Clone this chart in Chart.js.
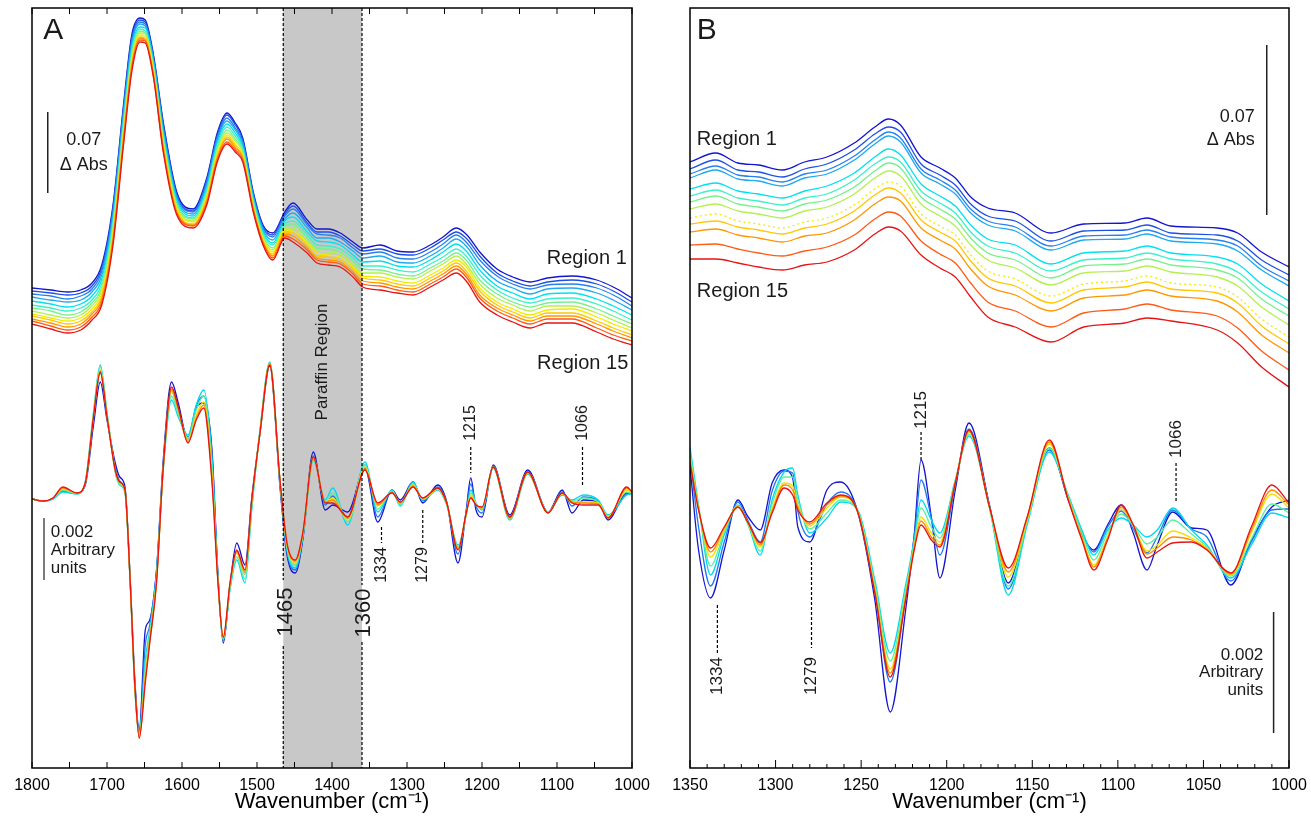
<!DOCTYPE html>
<html lang="en">

<head>
    <meta charset="UTF-8">
    <title>FTIR spectra - Region 1 to Region 15</title>
    <style>
        body { margin: 0; background: #fff; overflow: hidden; }
        #wrapA { position: absolute; left: 0; top: 0; width: 660px; height: 817px; }
        #wrapB { position: absolute; left: 660px; top: 0; width: 660px; height: 817px; }
    </style>
</head>

<body>
    <div id="wrapA"><canvas id="chartA"></canvas></div>
    <div id="wrapB"><canvas id="chartB"></canvas></div>

    <script src="https://cdn.jsdelivr.net/npm/chart.js"></script>

    <script>
        // units on y are arbitrary display units (0 = bottom axis)

        // ---- panel A, absorbance spectra (Region 1 .. Region 15)
        const v_wnTopA = [1800, 1775, 1753, 1735, 1720, 1707, 1692, 1678, 1667, 1656, 1649, 1638, 1625, 1607, 1585, 1567, 1553, 1540, 1529, 1519, 1505, 1492, 1479, 1463, 1452, 1433, 1420, 1405, 1389, 1372, 1359, 1336, 1313, 1292, 1269, 1252, 1234, 1220, 1203, 1180, 1159, 1136, 1113, 1080, 1047, 1025, 1000];
        const v_topA01 = [480, 478, 476, 478, 485, 503, 563, 663, 733, 750, 748, 713, 646, 576, 559, 590, 635, 655, 645, 630, 576, 543, 535, 556, 565, 548, 539, 539, 535, 526, 520, 523, 517, 516, 523, 531, 540, 533, 516, 499, 491, 486, 490, 492, 488, 481, 470];
        const v_topA02 = [477, 475, 473, 475, 482, 500, 560, 660, 730, 748, 746, 711, 644, 574, 557, 588, 633, 653, 643, 628, 574, 541, 533, 554, 562, 545, 536, 536, 532, 523, 517, 519, 514, 513, 520, 528, 536, 529, 512, 495, 487, 482, 486, 488, 484, 477, 466];
        const v_topA03 = [474, 472, 469, 472, 479, 497, 557, 657, 727, 746, 744, 709, 641, 572, 556, 586, 630, 650, 640, 626, 573, 540, 531, 552, 559, 543, 534, 533, 530, 520, 514, 516, 510, 509, 516, 524, 533, 525, 508, 492, 484, 479, 483, 484, 480, 473, 462];
        const v_topA04 = [471, 468, 466, 468, 476, 493, 553, 653, 724, 744, 742, 707, 638, 570, 554, 583, 628, 647, 638, 624, 571, 538, 528, 549, 555, 540, 530, 530, 526, 517, 510, 512, 506, 505, 512, 520, 529, 521, 503, 487, 480, 474, 479, 480, 475, 468, 458];
        const v_topA05 = [467, 464, 461, 464, 472, 489, 549, 649, 720, 741, 740, 705, 635, 568, 552, 580, 625, 644, 635, 621, 569, 536, 525, 547, 551, 536, 527, 526, 523, 513, 506, 507, 502, 501, 508, 516, 524, 516, 498, 482, 475, 469, 474, 475, 469, 462, 453];
        const v_topA06 = [463, 460, 457, 460, 468, 485, 545, 645, 716, 739, 737, 702, 632, 565, 550, 578, 622, 641, 632, 619, 567, 534, 523, 544, 547, 533, 523, 522, 519, 510, 502, 502, 498, 496, 504, 511, 519, 511, 493, 478, 470, 465, 469, 470, 464, 457, 448];
        const v_topA07 = [460, 457, 453, 456, 465, 481, 541, 641, 713, 737, 735, 700, 629, 563, 549, 575, 619, 638, 629, 617, 565, 532, 520, 542, 544, 530, 520, 519, 516, 507, 499, 498, 494, 492, 500, 507, 515, 507, 488, 474, 466, 461, 465, 466, 459, 452, 444];
        const v_topA08 = [457, 453, 450, 453, 462, 478, 538, 638, 710, 735, 734, 699, 627, 562, 547, 573, 617, 635, 627, 615, 563, 530, 518, 540, 540, 527, 518, 516, 514, 504, 495, 495, 491, 489, 497, 504, 512, 503, 484, 470, 463, 457, 462, 462, 455, 448, 440];
        const v_topA09 = [454, 450, 447, 450, 459, 475, 535, 635, 707, 733, 732, 697, 625, 560, 546, 571, 614, 633, 624, 613, 562, 529, 516, 538, 537, 525, 515, 513, 511, 501, 492, 491, 487, 485, 493, 500, 508, 500, 480, 466, 459, 453, 458, 459, 451, 444, 437];
        const v_topA10 = [452, 448, 444, 447, 456, 472, 532, 632, 704, 731, 730, 695, 623, 558, 544, 569, 612, 631, 622, 611, 560, 527, 514, 536, 535, 522, 512, 511, 508, 499, 490, 488, 484, 482, 490, 497, 505, 496, 477, 463, 456, 450, 455, 455, 447, 440, 433];
        const v_topA11 = [449, 445, 441, 444, 454, 469, 529, 629, 702, 730, 728, 693, 620, 556, 543, 567, 610, 629, 620, 610, 559, 526, 512, 534, 532, 520, 510, 508, 506, 496, 487, 485, 481, 479, 487, 494, 502, 493, 473, 460, 453, 447, 452, 452, 444, 437, 430];
        const v_topA12 = [447, 442, 438, 441, 451, 466, 526, 626, 699, 728, 727, 692, 618, 555, 542, 565, 608, 626, 618, 608, 558, 525, 510, 532, 529, 518, 508, 506, 504, 494, 484, 482, 478, 476, 484, 491, 499, 490, 470, 457, 450, 444, 449, 449, 440, 433, 427];
        const v_topA13 = [444, 439, 435, 438, 448, 463, 523, 623, 696, 726, 725, 690, 616, 553, 540, 563, 606, 624, 616, 606, 556, 523, 508, 530, 526, 515, 505, 503, 501, 491, 481, 478, 475, 473, 481, 488, 495, 486, 466, 453, 446, 440, 445, 445, 436, 429, 423];

        // ---- panel A, second derivative spectra
        const v_wnDerA = [1800, 1785, 1772, 1759, 1740, 1729, 1718, 1709, 1700, 1689, 1683, 1676, 1669, 1663, 1657, 1649, 1643, 1634, 1625, 1614, 1605, 1592, 1581, 1571, 1560, 1552, 1545, 1536, 1527, 1516, 1507, 1496, 1483, 1469, 1460, 1449, 1439, 1425, 1409, 1399, 1379, 1356, 1339, 1320, 1309, 1292, 1279, 1259, 1247, 1232, 1221, 1215, 1208, 1200, 1185, 1163, 1139, 1112, 1093, 1080, 1065, 1045, 1032, 1007, 1000];
        const v_derA1 = [269, 267, 269, 277, 275, 283, 343, 386, 348, 305, 291, 281, 188, 90, 38, 138, 148, 198, 308, 386, 365, 328, 360, 365, 318, 193, 125, 183, 225, 203, 270, 335, 402, 278, 213, 195, 228, 316, 258, 263, 256, 300, 246, 278, 268, 286, 265, 283, 266, 205, 258, 290, 258, 251, 303, 253, 298, 256, 278, 255, 268, 266, 248, 275, 275];
        const v_derA2 = [269, 267, 269, 277, 275, 285, 350, 395, 352, 301, 287, 278, 186, 85, 36, 123, 143, 196, 303, 377, 358, 331, 362, 372, 313, 191, 127, 181, 217, 194, 264, 337, 404, 281, 216, 198, 230, 312, 263, 272, 250, 303, 251, 278, 265, 286, 267, 281, 265, 214, 256, 284, 262, 255, 302, 251, 296, 256, 276, 262, 271, 267, 251, 274, 275];
        const v_derA3 = [269, 267, 269, 276, 274, 286, 356, 403, 356, 296, 283, 275, 183, 80, 33, 108, 138, 193, 298, 368, 351, 333, 363, 378, 308, 188, 128, 178, 208, 185, 258, 338, 406, 283, 218, 200, 231, 308, 268, 280, 243, 306, 256, 278, 262, 286, 268, 278, 263, 223, 253, 278, 265, 258, 300, 248, 294, 256, 273, 268, 273, 268, 253, 273, 274];
        const v_derA4 = [269, 267, 269, 278, 274, 286, 354, 401, 354, 297, 284, 276, 184, 82, 32, 100, 134, 190, 299, 372, 354, 330, 358, 372, 300, 187, 129, 180, 211, 189, 261, 337, 405, 284, 220, 203, 232, 309, 267, 275, 246, 303, 259, 277, 263, 284, 269, 279, 264, 221, 254, 275, 264, 259, 300, 249, 295, 256, 274, 267, 270, 266, 252, 276, 275];
        const v_derA5 = [269, 267, 270, 279, 275, 285, 353, 398, 353, 297, 285, 277, 184, 83, 31, 93, 129, 188, 300, 377, 358, 328, 353, 366, 293, 186, 130, 183, 215, 194, 265, 336, 404, 284, 223, 205, 234, 310, 266, 270, 248, 301, 262, 276, 265, 283, 269, 279, 264, 220, 254, 273, 264, 260, 301, 250, 295, 255, 274, 266, 266, 265, 251, 278, 275];
        const v_derA6 = [269, 267, 270, 280, 275, 285, 352, 397, 352, 298, 286, 278, 185, 84, 30, 89, 127, 186, 300, 379, 359, 326, 350, 363, 289, 186, 130, 184, 216, 196, 266, 336, 404, 285, 224, 207, 234, 311, 266, 268, 250, 299, 263, 276, 265, 282, 270, 280, 265, 219, 255, 271, 263, 260, 301, 250, 296, 255, 275, 266, 265, 264, 250, 280, 276];
        const v_derA7 = [269, 267, 270, 281, 275, 285, 351, 396, 351, 298, 286, 278, 185, 85, 30, 85, 125, 185, 301, 381, 361, 325, 348, 360, 285, 185, 131, 185, 218, 198, 268, 335, 403, 285, 225, 208, 235, 311, 265, 265, 251, 298, 265, 275, 266, 281, 270, 280, 265, 218, 255, 270, 263, 261, 301, 251, 296, 255, 275, 265, 263, 263, 250, 281, 276];

        // ---- panel B, absorbance spectra (zoom 1350-1000)
        const v_wnTopB = [1350, 1335, 1322, 1310, 1296, 1283, 1270, 1254, 1242, 1234, 1227, 1215, 1204, 1195, 1186, 1176, 1160, 1139, 1120, 1096, 1083, 1069, 1042, 1030, 1016, 1000];
        const v_topB01 = [606, 615, 605, 603, 598, 606, 611, 625, 641, 649, 643, 611, 600, 590, 571, 560, 555, 535, 544, 545, 550, 542, 540, 535, 516, 501];
        const v_topB02 = [599, 608, 598, 596, 591, 599, 604, 618, 634, 641, 636, 604, 593, 583, 564, 552, 547, 527, 537, 538, 543, 535, 533, 527, 508, 493];
        const v_topB03 = [594, 602, 593, 591, 586, 594, 598, 612, 628, 636, 630, 599, 588, 578, 559, 547, 541, 522, 532, 533, 538, 531, 528, 522, 502, 487];
        const v_topB04 = [590, 598, 589, 587, 582, 590, 594, 608, 624, 632, 626, 595, 584, 574, 555, 543, 537, 518, 528, 529, 534, 527, 524, 517, 498, 482];
        const v_topB05 = [579, 585, 577, 574, 570, 577, 582, 595, 611, 619, 613, 584, 572, 562, 543, 529, 523, 504, 515, 517, 522, 515, 511, 504, 484, 467];
        const v_topB06 = [572, 578, 570, 567, 563, 570, 574, 588, 604, 611, 606, 577, 565, 555, 536, 522, 515, 497, 508, 510, 515, 509, 504, 496, 476, 459];
        const v_topB07 = [566, 572, 564, 561, 557, 564, 568, 581, 597, 605, 600, 571, 559, 549, 530, 515, 508, 490, 502, 504, 509, 503, 498, 490, 469, 452];
        const v_topB08 = [559, 564, 557, 554, 550, 557, 561, 574, 590, 597, 592, 564, 552, 542, 523, 508, 500, 483, 495, 497, 502, 496, 491, 482, 461, 443];
        const v_topB09 = [550, 554, 547, 544, 540, 546, 550, 563, 579, 586, 582, 554, 542, 533, 513, 497, 489, 472, 484, 487, 492, 485, 481, 471, 449, 431];
        const v_topB10 = [544, 547, 541, 538, 534, 540, 544, 557, 573, 580, 575, 548, 536, 527, 507, 490, 482, 465, 478, 481, 486, 479, 475, 465, 442, 424];
        const v_topB11 = [536, 539, 533, 530, 526, 532, 535, 548, 564, 571, 567, 540, 528, 519, 499, 482, 473, 457, 470, 473, 478, 472, 467, 456, 433, 415];
        const v_topB12 = [523, 524, 519, 515, 512, 517, 521, 533, 549, 556, 552, 527, 514, 505, 485, 466, 457, 441, 455, 459, 464, 458, 452, 440, 417, 398];
        const v_topB13 = [509, 509, 505, 501, 498, 503, 506, 518, 534, 541, 537, 513, 500, 491, 471, 451, 441, 426, 441, 445, 450, 447, 438, 425, 401, 381];

        // ---- panel B, second derivative spectra
        const v_wnDerB = [1350, 1345, 1338, 1330, 1322, 1316, 1309, 1302, 1295, 1290, 1287, 1280, 1270, 1262, 1252, 1242, 1233, 1224, 1219, 1215, 1209, 1204, 1195, 1187, 1175, 1164, 1153, 1140, 1129, 1121, 1114, 1106, 1098, 1091, 1083, 1077, 1068, 1057, 1048, 1034, 1022, 1010, 1000];
        const v_derB1 = [301, 218, 170, 218, 268, 251, 238, 285, 298, 290, 241, 226, 278, 286, 256, 168, 56, 158, 233, 308, 251, 190, 278, 345, 263, 185, 248, 320, 268, 233, 218, 243, 263, 235, 198, 223, 256, 240, 238, 183, 228, 261, 268];
        const v_derB2 = [311, 241, 182, 226, 266, 247, 226, 277, 297, 295, 257, 231, 264, 276, 257, 178, 86, 171, 231, 288, 250, 213, 283, 339, 262, 179, 246, 318, 271, 236, 216, 241, 257, 239, 215, 231, 258, 239, 231, 187, 226, 258, 259];
        const v_derB3 = [321, 263, 193, 233, 263, 243, 213, 268, 296, 300, 273, 235, 250, 266, 258, 188, 115, 183, 228, 268, 248, 235, 288, 332, 260, 173, 243, 316, 273, 238, 213, 238, 250, 243, 231, 238, 260, 238, 223, 190, 223, 255, 250];
        const v_derB4 = [316, 261, 202, 236, 262, 244, 217, 264, 291, 291, 268, 239, 255, 268, 257, 184, 107, 178, 225, 260, 241, 230, 287, 334, 260, 182, 246, 320, 271, 235, 208, 235, 254, 243, 224, 231, 248, 234, 221, 192, 229, 264, 255];
        const v_derB5 = [310, 260, 211, 238, 262, 244, 221, 259, 285, 282, 263, 242, 260, 271, 257, 179, 99, 173, 221, 251, 235, 226, 286, 336, 261, 191, 248, 324, 270, 231, 203, 231, 259, 243, 217, 223, 237, 230, 220, 193, 235, 274, 260];
        const v_derB6 = [308, 259, 216, 240, 261, 245, 223, 257, 283, 278, 261, 244, 263, 272, 256, 177, 95, 171, 220, 247, 231, 223, 286, 337, 261, 196, 250, 326, 269, 230, 201, 230, 261, 243, 214, 220, 231, 228, 219, 194, 238, 278, 263];
        const v_derB7 = [305, 258, 220, 241, 261, 245, 225, 255, 280, 273, 258, 246, 265, 273, 256, 175, 91, 168, 218, 243, 228, 221, 285, 338, 261, 200, 251, 328, 268, 228, 198, 228, 263, 243, 210, 216, 225, 226, 218, 195, 241, 283, 265];

        // jet-like colours, Region 1 (blue) -> Region 15 (red)
        const v_col13 = ['#1414d2', '#1e50e6', '#2880f0', '#1eaaf0', '#00e1f0', '#3cf0c8', '#78f08c', '#b4f050', '#f0ec00', '#ffc800', '#ff9600', '#ff5a14', '#e61414'];
        const v_col7 = ['#1414d2', '#1e78f0', '#00d7f0', '#5af0a0', '#f0e100', '#ff8c00', '#e61414'];

        const v_font = '"Liberation Sans", Arial, Helvetica, sans-serif';
        Chart.defaults.font.family = v_font;

        function f_sets(v_wn, v_list, v_colors, v_dashIdx) {
            return v_list.map((arr, k) => ({
                data: v_wn.map((w, i) => ({ x: w, y: arr[i] })),
                borderColor: v_colors[k],
                borderWidth: 1.3,
                borderDash: k === v_dashIdx ? [2, 3] : [],
                pointRadius: 0,
                cubicInterpolationMode: 'monotone',
                order: v_list.length - 1 - k // red drawn last
            }));
        }

        function f_options(v_min, v_max, v_step, v_labelStep, v_pad) {
            return {
                responsive: true,
                maintainAspectRatio: false,
                animation: false,
                layout: { padding: v_pad },
                plugins: { legend: { display: false }, tooltip: { enabled: false } },
                scales: {
                    x: {
                        type: 'linear', reverse: true, min: v_min, max: v_max,
                        grid: { display: false, drawTicks: false }, border: { display: false },
                        ticks: {
                            stepSize: v_step, autoSkip: false, maxRotation: 0, padding: 8,
                            color: '#000', font: { size: 16 },
                            callback: v => (v % v_labelStep === 0 ? String(v) : '')
                        },
                        title: {
                            display: true, text: 'Wavenumber (cm⁻¹)', color: '#000',
                            font: { size: 22 }, padding: { top: 0, bottom: 2 }
                        },
                        afterFit: s => { s.height = 49; }
                    },
                    y: { display: false, min: 0, max: 760 }
                }
            };
        }

        // small drawing helpers
        function f_text(ctx, str, px, py, size, align, rot) {
            ctx.save();
            ctx.translate(px, py);
            if (rot) ctx.rotate(-Math.PI / 2);
            ctx.font = size + 'px ' + v_font;
            ctx.fillStyle = '#1a1a1a';
            ctx.textAlign = align;
            ctx.textBaseline = 'middle';
            ctx.fillText(str, 0, 0);
            ctx.restore();
        }

        function f_vline(ctx, px, y1, y2, dashed, width) {
            ctx.save();
            ctx.strokeStyle = dashed ? '#000' : '#222';
            ctx.lineWidth = width || 1.2;
            if (dashed) ctx.setLineDash([3, 2]);
            ctx.beginPath();
            ctx.moveTo(px, y1);
            ctx.lineTo(px, y2);
            ctx.stroke();
            ctx.restore();
        }

        // box and inward ticks
        function f_frame(chart, v_major, v_long, v_short, v_top) {
            const ctx = chart.ctx, a = chart.chartArea, xs = chart.scales.x;
            ctx.save();
            ctx.strokeStyle = '#000';
            ctx.lineWidth = 1.5;
            ctx.strokeRect(a.left, a.top, a.right - a.left, a.bottom - a.top);
            ctx.lineWidth = 1;
            ctx.beginPath();
            xs.ticks.forEach(t => {
                const px = xs.getPixelForValue(t.value);
                const len = t.value % v_major === 0 ? v_long : v_short;
                ctx.moveTo(px, a.bottom);
                ctx.lineTo(px, a.bottom - len);
                if (v_top) {
                    ctx.moveTo(px, a.top);
                    ctx.lineTo(px, a.top + len);
                }
            });
            ctx.stroke();
            ctx.restore();
        }

        const v_overlayA = {
            id: 'overlayA',
            beforeDatasetsDraw(chart) {
                const ctx = chart.ctx, xs = chart.scales.x, a = chart.chartArea;
                const x1 = xs.getPixelForValue(1465), x2 = xs.getPixelForValue(1360);
                ctx.save();
                ctx.fillStyle = '#c8c8c8'; // paraffin region
                ctx.fillRect(x1, a.top, x2 - x1, a.bottom - a.top);
                ctx.restore();
            },
            afterDraw(chart) {
                const ctx = chart.ctx, xs = chart.scales.x, ys = chart.scales.y, a = chart.chartArea;
                const X = v => xs.getPixelForValue(v), Y = v => ys.getPixelForValue(v);

                // paraffin borders, broken behind their labels
                f_vline(ctx, X(1465), a.top, Y(188), true);
                f_vline(ctx, X(1465), Y(122), a.bottom, true);
                f_vline(ctx, X(1360), a.top, Y(183), true);
                f_vline(ctx, X(1360), Y(126), a.bottom, true);
                f_text(ctx, '1465', X(1462), Y(156), 22, 'center', true);
                f_text(ctx, '1360', X(1358), Y(155), 22, 'center', true);
                f_text(ctx, 'Paraffin Region', X(1413), Y(406), 17, 'center', true);

                f_frame(chart, 50, 6, 6, true);

                f_text(ctx, 'A', X(1785), Y(737), 30, 'left');
                f_text(ctx, 'Region 1', X(1007), Y(510), 20, 'right');
                f_text(ctx, 'Region 15', X(1005), Y(405), 20, 'right');

                // scale bars
                f_vline(ctx, X(1779), Y(656), Y(575), false, 1.5);
                f_text(ctx, '0.07', X(1731), Y(628), 18, 'center');
                f_text(ctx, 'Δ Abs', X(1731), Y(603), 18, 'center');
                f_vline(ctx, X(1784), Y(250), Y(188), false, 1.2);
                f_text(ctx, '0.002', X(1775), Y(236), 17, 'left');
                f_text(ctx, 'Arbitrary', X(1775), Y(218), 17, 'left');
                f_text(ctx, 'units', X(1775), Y(200), 17, 'left');

                // band markers
                f_vline(ctx, X(1215), Y(321), Y(295), true);
                f_text(ctx, '1215', X(1215), Y(345), 16, 'center', true);
                f_vline(ctx, X(1066), Y(321), Y(283), true);
                f_text(ctx, '1066', X(1066), Y(345), 16, 'center', true);
                f_vline(ctx, X(1334), Y(241), Y(225), true);
                f_text(ctx, '1334', X(1334), Y(203), 16, 'center', true);
                f_vline(ctx, X(1279), Y(258), Y(225), true);
                f_text(ctx, '1279', X(1279), Y(203), 16, 'center', true);
            }
        };

        const v_overlayB = {
            id: 'overlayB',
            afterDraw(chart) {
                const ctx = chart.ctx, xs = chart.scales.x, ys = chart.scales.y;
                const X = v => xs.getPixelForValue(v), Y = v => ys.getPixelForValue(v);

                f_frame(chart, 50, 8, 4, false);

                f_text(ctx, 'B', X(1346), Y(737), 30, 'left');
                f_text(ctx, 'Region 1', X(1346), Y(629), 20, 'left');
                f_text(ctx, 'Region 15', X(1346), Y(477), 20, 'left');

                // scale bars
                f_vline(ctx, X(1013), Y(723), Y(553), false, 1.5);
                f_text(ctx, '0.07', X(1020), Y(651), 18, 'right');
                f_text(ctx, 'Δ Abs', X(1020), Y(628), 18, 'right');
                f_vline(ctx, X(1009), Y(156), Y(35), false, 1.5);
                f_text(ctx, '0.002', X(1015), Y(113), 17, 'right');
                f_text(ctx, 'Arbitrary', X(1015), Y(96), 17, 'right');
                f_text(ctx, 'units', X(1015), Y(78), 17, 'right');

                // band markers
                f_vline(ctx, X(1334), Y(163), Y(115), true);
                f_text(ctx, '1334', X(1334), Y(92), 17, 'center', true);
                f_vline(ctx, X(1279), Y(221), Y(120), true);
                f_text(ctx, '1279', X(1279), Y(92), 17, 'center', true);
                f_vline(ctx, X(1215), Y(336), Y(308), true);
                f_text(ctx, '1215', X(1215), Y(358), 17, 'center', true);
                f_vline(ctx, X(1066), Y(305), Y(266), true);
                f_text(ctx, '1066', X(1066), Y(329), 17, 'center', true);
            }
        };

        const v_topA = [v_topA01, v_topA02, v_topA03, v_topA04, v_topA05, v_topA06, v_topA07, v_topA08, v_topA09, v_topA10, v_topA11, v_topA12, v_topA13];
        const v_derA = [v_derA1, v_derA2, v_derA3, v_derA4, v_derA5, v_derA6, v_derA7];
        const v_topB = [v_topB01, v_topB02, v_topB03, v_topB04, v_topB05, v_topB06, v_topB07, v_topB08, v_topB09, v_topB10, v_topB11, v_topB12, v_topB13];
        const v_derB = [v_derB1, v_derB2, v_derB3, v_derB4, v_derB5, v_derB6, v_derB7];

        new Chart(document.getElementById('chartA'), {
            type: 'line',
            data: { datasets: f_sets(v_wnTopA, v_topA, v_col13, -1).concat(f_sets(v_wnDerA, v_derA, v_col7, -1)) },
            options: f_options(1000, 1800, 50, 100, { left: 32, right: 28, top: 8, bottom: 0 }),
            plugins: [v_overlayA]
        });

        // canvas B runs 9px past the window so the plot edge lands at 1289
        new Chart(document.getElementById('chartB'), {
            type: 'line',
            data: { datasets: f_sets(v_wnTopB, v_topB, v_col13, 8).concat(f_sets(v_wnDerB, v_derB, v_col7, -1)) },
            options: f_options(1000, 1350, 10, 50, { left: 30, right: 31, top: 8, bottom: 0 }),
            plugins: [v_overlayB]
        });
    </script>
</body>

</html>
